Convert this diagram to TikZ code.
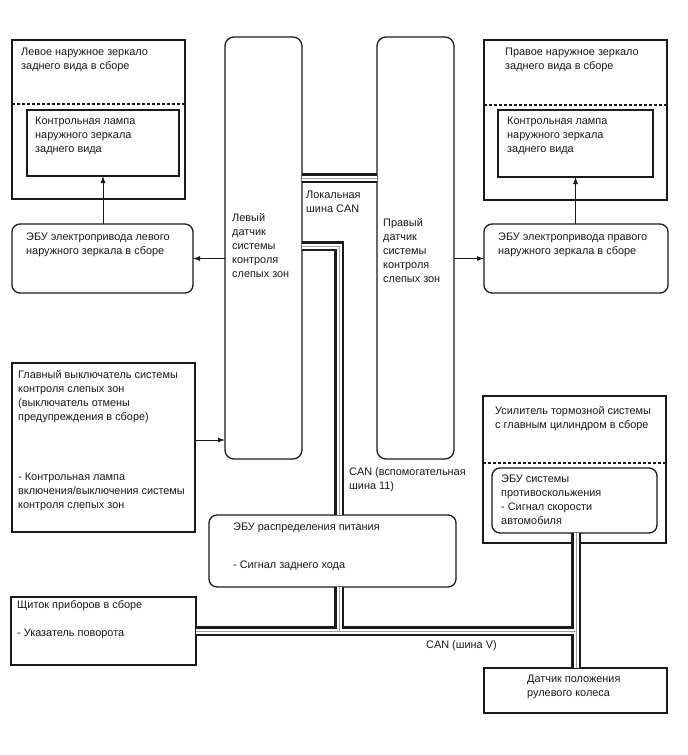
\documentclass[tikz,border=0pt]{standalone}
\usepackage{fontspec}
\setmainfont{Liberation Sans}
\usetikzlibrary{arrows.meta}
\definecolor{ink}{HTML}{1A1A1A}
\definecolor{busgray}{HTML}{A0A0A0}
\tikzset{
 box/.style={draw=ink, line width=1.3pt, fill=white, anchor=north west, inner sep=0pt, outer sep=0pt},
 rbox/.style={box, rounded corners=8pt},
 txt/.style={font=\fontsize{10.9}{14}\selectfont, align=left, anchor=north west, inner sep=0pt, text=ink},
 arr/.style={draw=ink, line width=0.9pt, -{Latex[length=7pt,width=5pt]}},
 dsh/.style={draw=ink, line width=1.2pt, dash pattern=on 3pt off 2pt},
 busout/.style={draw=ink, line width=9.5pt},
 busin/.style={draw=white, line width=5pt},
 busmid/.style={draw=busgray, line width=0.9pt},
}
\begin{document}
\begin{tikzpicture}[x=1pt,y=-1pt]
\useasboundingbox (0,0) rectangle (688,755);
% left mirror
\node[box, minimum width=173, minimum height=159] (lmir) at (12,40) {};
\coordinate (ldash) at (12,104);
\draw[dsh] (ldash -| lmir.west) -- (ldash -| lmir.east);
\node[box, minimum width=152, minimum height=66] (lin) at (27,110) {};
\node[rbox, minimum width=181, minimum height=69] (lecu) at (12,224) {};
% sensors
\node[rbox, rounded corners=9pt, minimum width=77, minimum height=422] (ls) at (225,37) {};
\node[rbox, rounded corners=9pt, minimum width=77, minimum height=422] (rs) at (377,37) {};
% right mirror
\node[box, minimum width=183, minimum height=160] (rmir) at (484,40) {};
\coordinate (rdash) at (484,105);
\draw[dsh] (rdash -| rmir.west) -- (rdash -| rmir.east);
\node[box, minimum width=155, minimum height=67] (rin) at (498,110) {};
\node[rbox, minimum width=184, minimum height=69] (recu) at (484,224) {};
% main switch
\node[box, minimum width=183, minimum height=169] (ms) at (12,363) {};
% power ECU
\node[rbox, minimum width=247, minimum height=72] (pecu) at (209,515) {};
% brake booster
\node[box, minimum width=183, minimum height=147] (brk) at (483,396) {};
\coordinate (bdash) at (483,463);
\draw[dsh] (bdash -| brk.west) -- (bdash -| brk.east);
\node[rbox, minimum width=165, minimum height=65] (absb) at (492,468) {};
% cluster and steering sensor
\node[box, minimum width=185, minimum height=68] (cl) at (11,597) {};
\node[box, minimum width=183, minimum height=45] (steer) at (484,668) {};
% bus coordinates
\coordinate (lcan) at (340,178);
\coordinate (bA) at (339,246);
\coordinate (bV) at (339,631);
\coordinate (bR) at (576,631);
\foreach \s in {busout,busin,busmid}{
 \draw[\s] (lcan -| ls.east) -- (lcan -| rs.west);
 \draw[\s] (bA -| ls.east) -- (bA) -- (bA |- pecu.north);
 \draw[\s] (bA |- pecu.south) -- (bV);
 \draw[\s] (bV -| cl.east) -- (bR);
 \draw[\s] (bR |- absb.south) -- (bR |- steer.north);
}
% arrows
\draw[arr] (ls.west |- lecu.east) -- (lecu.east);
\draw[arr] (lin.south |- lecu.north) -- (lin.south);
\draw[arr] (rs.east |- recu.west) -- (recu.west);
\draw[arr] (rin.south |- recu.north) -- (rin.south);
\coordinate (msa) at (195,440);
\draw[arr] (msa -| ms.east) -- (msa -| ls.west);
% texts
\node[txt] (lmirt) at (21,45) {\strut Левое наружное зеркало\\заднего вида в сборе};
\node[txt] (lint) at (35,114) {\strut Контрольная лампа\\наружного зеркала\\заднего вида};
\node[txt] (lecut) at (26,230) {\strut ЭБУ электропривода левого\\наружного зеркала в сборе};
\node[txt] (lst) at (232,211) {\strut Левый\\датчик\\системы\\контроля\\слепых зон};
\node[txt] (lcant) at (306,188) {\strut Локальная\\шина CAN};
\node[txt] (rst) at (383,216) {\strut Правый\\датчик\\системы\\контроля\\слепых зон};
\node[txt] (rmirt) at (505,45) {\strut Правое наружное зеркало\\заднего вида в сборе};
\node[txt] (rint) at (507,114) {\strut Контрольная лампа\\наружного зеркала\\заднего вида};
\node[txt] (recut) at (498,230) {\strut ЭБУ электропривода правого\\наружного зеркала в сборе};
\node[txt] (mst1) at (18,368) {\strut Главный выключатель системы\\контроля слепых зон\\(выключатель отмены\\предупреждения в сборе)};
\node[txt] (mst2) at (18,470) {\strut - Контрольная лампа\\включения/выключения системы\\контроля слепых зон};
\node[txt] (can11) at (349,465) {\strut CAN (вспомогательная\\шина 11)};
\node[txt] (pecu1) at (233,520) {\strut ЭБУ распределения питания};
\node[txt] (pecu2) at (233,558) {\strut - Сигнал заднего хода};
\node[txt] (brkt) at (495,404) {\strut Усилитель тормозной системы\\с главным цилиндром в сборе};
\node[txt] (abst) at (501,472) {\strut ЭБУ системы\\противоскольжения\\- Сигнал скорости\\автомобиля};
\node[txt] (cl1) at (17,598) {\strut Щиток приборов в сборе};
\node[txt] (cl2) at (17,626) {\strut - Указатель поворота};
\node[txt] (canv) at (426,638) {\strut CAN (шина V)};
\node[txt] (steert) at (527,672) {\strut Датчик положения\\рулевого колеса};
\end{tikzpicture}
\end{document}
